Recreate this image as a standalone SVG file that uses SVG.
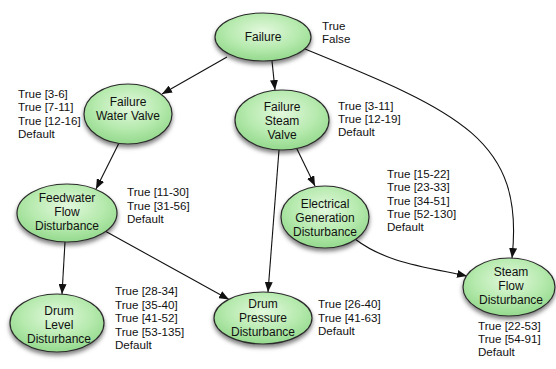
<svg xmlns="http://www.w3.org/2000/svg" width="556" height="369" viewBox="0 0 556 369">
<defs>
<radialGradient id="g" cx="50%" cy="38%" r="62%">
<stop offset="0" stop-color="#e3f8dd"/>
<stop offset="0.6" stop-color="#b6eaae"/>
<stop offset="1" stop-color="#94d98d"/>
</radialGradient>
<filter id="sh" x="-20%" y="-20%" width="140%" height="150%">
<feDropShadow dx="0" dy="3" stdDeviation="2.2" flood-color="#000" flood-opacity="0.5"/>
</filter>
<marker id="ah" markerUnits="userSpaceOnUse" markerWidth="10" markerHeight="8" refX="10" refY="4" orient="auto">
<path d="M0,0 L10,4 L0,8 z" fill="#111"/>
</marker>
</defs>
<style>
.n ellipse{fill:url(#g);stroke:#2b2b2b;stroke-width:1.2;filter:url(#sh)}
.n text{font-family:"Liberation Sans",Arial,sans-serif;font-size:12px;fill:#111;text-anchor:middle}
.lb{font-family:"Liberation Sans",Arial,sans-serif;font-size:11.6px;fill:#111}
.e path{fill:none;stroke:#111;stroke-width:1.1;marker-end:url(#ah)}
</style>
<g id="connectors" class="e">
<path d="M227,57 L162,94"/>
<path d="M272,61 L275,90"/>
<path d="M119,143 L96,189"/>
<path d="M279,150 L268,292"/>
<path d="M296,147 L315,186"/>
<path d="M65,242 L62,294"/>
<path d="M105,231 L229,299.5"/>
<path d="M355,239 C385,262 420,266 467,276"/>
<path d="M305,49 C460,112 525,140 512,258"/>
</g>
<g id="failure" class="n">
<ellipse cx="263" cy="37" rx="48" ry="24"/>
<text x="263" y="41">Failure</text>
</g>
<g id="failure-water-valve" class="n">
<ellipse cx="128" cy="114" rx="44" ry="30"/>
<text x="128" y="106">Failure</text>
<text x="128" y="120">Water Valve</text>
</g>
<g id="failure-steam-valve" class="n">
<ellipse cx="282" cy="120" rx="47" ry="30"/>
<text x="282" y="111">Failure</text>
<text x="282" y="125">Steam</text>
<text x="282" y="139">Valve</text>
</g>
<g id="feedwater-flow-disturbance" class="n">
<ellipse cx="67" cy="213" rx="50" ry="29"/>
<text x="67" y="202">Feedwater</text>
<text x="67" y="216">Flow</text>
<text x="67" y="230">Disturbance</text>
</g>
<g id="electrical-generation-disturbance" class="n">
<ellipse cx="325" cy="217" rx="44" ry="31"/>
<text x="325" y="208">Electrical</text>
<text x="325" y="222">Generation</text>
<text x="325" y="236">Disturbance</text>
</g>
<g id="drum-level-disturbance" class="n">
<ellipse cx="57" cy="323" rx="47" ry="29"/>
<text x="59" y="315">Drum</text>
<text x="59" y="329">Level</text>
<text x="59" y="343">Disturbance</text>
</g>
<g id="drum-pressure-disturbance" class="n">
<ellipse cx="263" cy="318" rx="49" ry="26"/>
<text x="263" y="308">Drum</text>
<text x="263" y="322">Pressure</text>
<text x="263" y="336">Disturbance</text>
</g>
<g id="steam-flow-disturbance" class="n">
<ellipse cx="509" cy="287" rx="46" ry="29"/>
<text x="511" y="276">Steam</text>
<text x="511" y="290">Flow</text>
<text x="511" y="304">Disturbance</text>
</g>
<g id="labels" class="lb">
<text x="322" y="30">True</text>
<text x="322" y="43">False</text>
<text x="18" y="98">True [3-6]</text>
<text x="18" y="111">True [7-11]</text>
<text x="18" y="124.5">True [12-16]</text>
<text x="18" y="138">Default</text>
<text x="338" y="110">True [3-11]</text>
<text x="338" y="123">True [12-19]</text>
<text x="338" y="136">Default</text>
<text x="127" y="196">True [11-30]</text>
<text x="127" y="209.5">True [31-56]</text>
<text x="127" y="223">Default</text>
<text x="387" y="178">True [15-22]</text>
<text x="387" y="191">True [23-33]</text>
<text x="387" y="204.5">True [34-51]</text>
<text x="387" y="218">True [52-130]</text>
<text x="387" y="231">Default</text>
<text x="115" y="295">True [28-34]</text>
<text x="115" y="308.5">True [35-40]</text>
<text x="115" y="322">True [41-52]</text>
<text x="115" y="335.5">True [53-135]</text>
<text x="115" y="349">Default</text>
<text x="318" y="308">True [26-40]</text>
<text x="318" y="321.5">True [41-63]</text>
<text x="318" y="335">Default</text>
<text x="478" y="330">True [22-53]</text>
<text x="478" y="343">True [54-91]</text>
<text x="478" y="356">Default</text>
</g>
</svg>
